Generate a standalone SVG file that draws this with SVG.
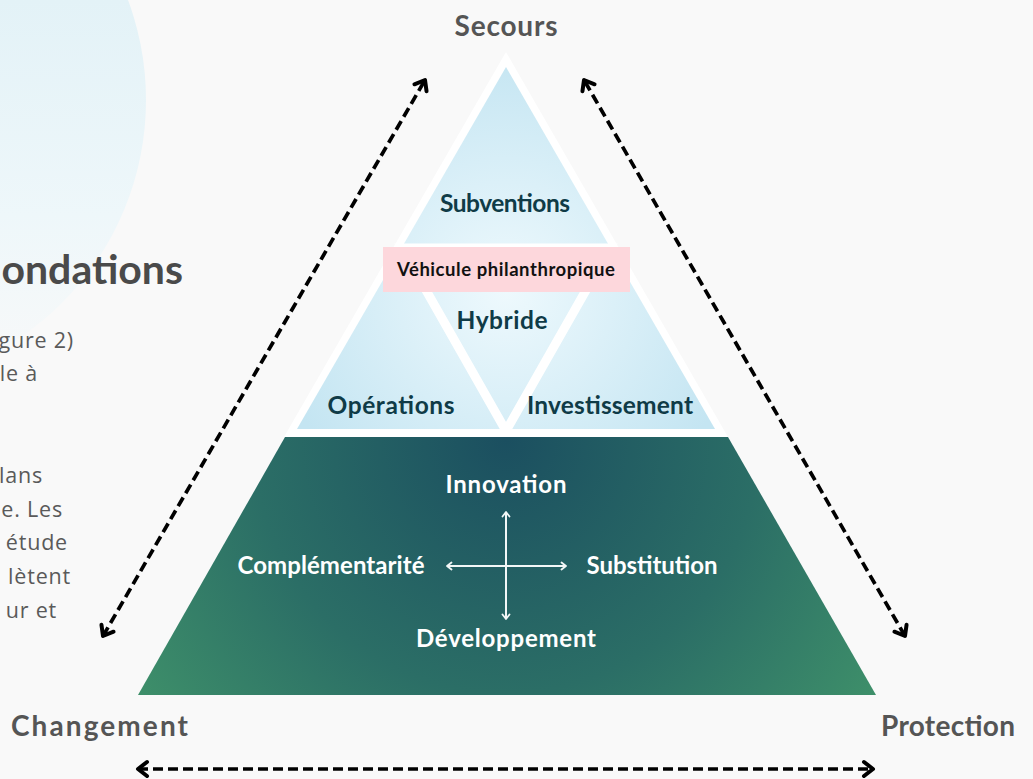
<svg xmlns="http://www.w3.org/2000/svg" width="1033" height="779" viewBox="0 0 1033 779">
<defs>
<style>
.lbl{font-family:Lato,"Noto Sans",sans-serif;font-weight:700;fill:#555555;font-size:28px}
.blue{font-family:Lato,"Noto Sans",sans-serif;font-weight:700;fill:#0f3b47;font-size:24.5px;text-anchor:middle}
.wht{font-family:Lato,"Noto Sans",sans-serif;font-weight:700;fill:#ffffff;font-size:24px;text-anchor:middle}
.body{font-family:"Open Sans","Noto Sans",sans-serif;fill:#5a5a5a;font-size:21.5px;letter-spacing:0.8px;text-anchor:end}
.dash{fill:none;stroke:#000;stroke-width:3.7;stroke-dasharray:10 5}
.thin{fill:none;stroke:#f2f7f7;stroke-width:2}
</style>
<linearGradient id="circ" gradientUnits="userSpaceOnUse" x1="0" y1="0" x2="0" y2="390">
<stop offset="0" stop-color="#e3f2f7"/>
<stop offset="0.55" stop-color="#eef7fa"/>
<stop offset="1" stop-color="#f9f9f9"/>
</linearGradient>
<radialGradient id="blueg" gradientUnits="userSpaceOnUse" cx="506" cy="290" r="240">
<stop offset="0" stop-color="#eef9fd"/>
<stop offset="1" stop-color="#c4e5f2"/>
</radialGradient>
<radialGradient id="greeng" gradientUnits="userSpaceOnUse" cx="506" cy="440" r="460">
<stop offset="0" stop-color="#1b4f60"/>
<stop offset="0.55" stop-color="#2b6e66"/>
<stop offset="1" stop-color="#3f916a"/>
</radialGradient>
<marker id="chev" viewBox="-13 -10 16 20" refX="0" refY="0" markerWidth="16" markerHeight="20" markerUnits="userSpaceOnUse" orient="auto-start-reverse">
<path d="M-9 -7 L0 0 L-9 7" fill="none" stroke="#000" stroke-width="4" stroke-linecap="round" stroke-linejoin="round"/>
</marker>
<marker id="wchev" viewBox="-7 -5 8 10" refX="0" refY="0" markerWidth="8" markerHeight="10" markerUnits="userSpaceOnUse" orient="auto-start-reverse">
<path d="M-4.5 -3.5 L0 0 L-4.5 3.5" fill="none" stroke="#f2f7f7" stroke-width="1.8" stroke-linecap="round" stroke-linejoin="round"/>
</marker>
</defs>
<rect x="0" y="0" width="1033" height="779" fill="#f9f9f9"/>
<circle cx="-141" cy="100" r="287" fill="url(#circ)"/>

<g id="side-text">
<text x="183" y="284" style="font-family:Lato,'Noto Sans',sans-serif;font-weight:700;font-size:41px;fill:#4a4a4a;text-anchor:end">ondations</text>
<text class="body" x="74" y="348">gure 2)</text>
<text class="body" x="38" y="381">le à</text>
<text class="body" x="43" y="483">lans</text>
<text class="body" x="63" y="517">e. Les</text>
<text class="body" x="68" y="550">étude</text>
<text class="body" x="71" y="584">lètent</text>
<text class="body" x="57" y="618">ur et</text>
</g>

<g id="upper-triangle">
<polygon points="506,52 284,437 728,437" fill="#ffffff"/>
<polygon points="506,67 297,429 715,429" fill="url(#blueg)"/>
<polygon points="402,248 610,248 506,431" fill="url(#blueg)" stroke="#ffffff" stroke-width="9" stroke-linejoin="miter"/>
</g>

<g id="subventions"><text class="blue" x="505" y="212" textLength="130">Subventions</text></g>
<g id="operations"><text class="blue" x="391" y="414" textLength="127">Opérations</text></g>
<g id="investissement"><text class="blue" x="610" y="414" textLength="166">Investissement</text></g>
<g id="hybride"><text class="blue" x="502" y="329" textLength="91">Hybride</text></g>
<g id="vehicule">
<rect x="383" y="247" width="247" height="45" fill="#fdd7dc"/>
<text x="506" y="276" style="font-family:Lato,'Noto Sans',sans-serif;font-weight:700;font-size:18.5px;fill:#111111;text-anchor:middle" textLength="218">Véhicule philanthropique</text>
</g>

<g id="lower-trapezoid">
<polygon points="285,437 728,437 876,695 138,695" fill="url(#greeng)"/>
</g>

<g id="innovation"><text class="wht" x="506" y="493" textLength="121">Innovation</text></g>
<g id="complementarite"><text class="wht" x="331" y="574" textLength="187">Complémentarité</text></g>
<g id="substitution"><text class="wht" x="652" y="574" textLength="131">Substitution</text></g>
<g id="developpement"><text class="wht" x="506" y="647" textLength="180">Développement</text></g>

<g id="secours"><text class="lbl" x="506" y="36" text-anchor="middle" textLength="103">Secours</text></g>
<g id="changement"><text class="lbl" x="11" y="736" textLength="177">Changement</text></g>
<g id="protection"><text class="lbl" x="881" y="736" textLength="134">Protection</text></g>

<g id="connectors">
<line class="dash" x1="103" y1="636" x2="425" y2="80" marker-start="url(#chev)" marker-end="url(#chev)"/>
<line class="dash" x1="905" y1="636" x2="584" y2="80" marker-start="url(#chev)" marker-end="url(#chev)"/>
<line class="dash" x1="138" y1="769" x2="873" y2="769" marker-start="url(#chev)" marker-end="url(#chev)"/>
<line class="thin" x1="506" y1="512" x2="506" y2="619" marker-start="url(#wchev)" marker-end="url(#wchev)"/>
<line class="thin" x1="447" y1="566" x2="566" y2="566" marker-start="url(#wchev)" marker-end="url(#wchev)"/>
</g>
</svg>
